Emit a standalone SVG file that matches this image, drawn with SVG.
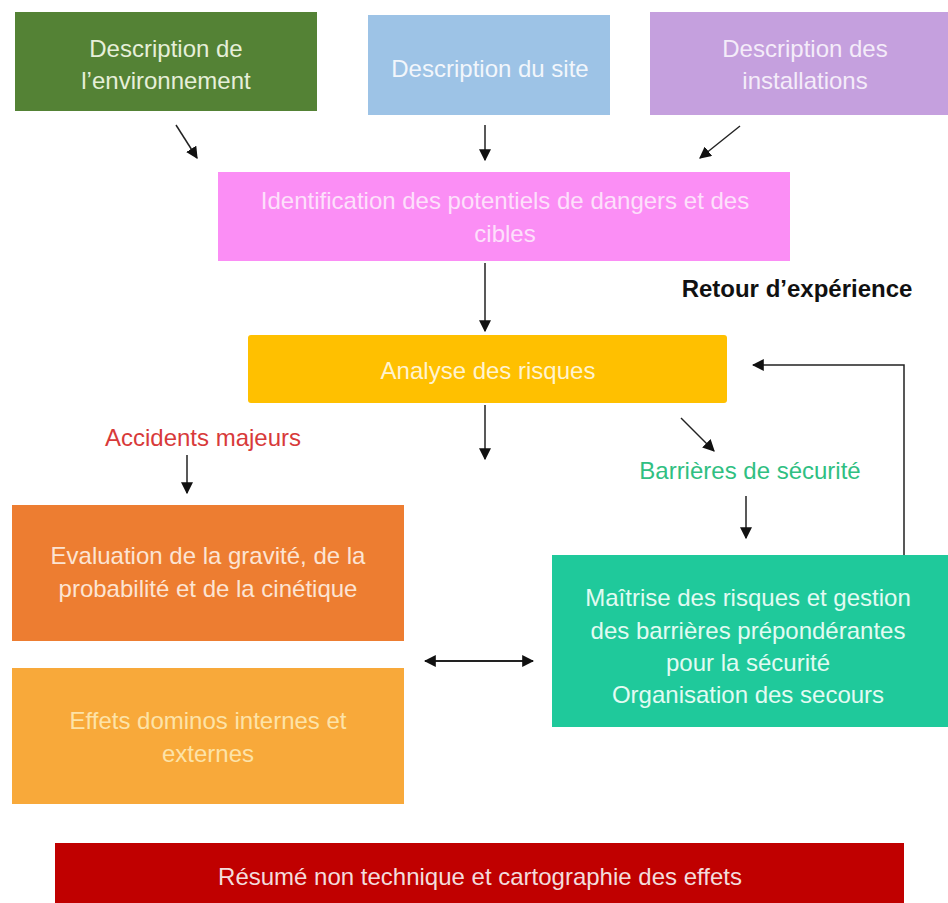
<svg xmlns="http://www.w3.org/2000/svg" width="948" height="903" viewBox="0 0 948 903">
<defs>
<marker id="ah" viewBox="0 0 10 10" refX="9" refY="5" markerWidth="12" markerHeight="12" markerUnits="userSpaceOnUse" orient="auto-start-reverse">
<path d="M0,0 L10,5 L0,10 z" fill="#111"/>
</marker>
<style>
text{font-family:"Liberation Sans",Arial,sans-serif;font-size:24px;text-anchor:middle;dominant-baseline:central}
.c{stroke:#222;stroke-width:1.5;fill:none}
</style>
</defs>
<rect width="948" height="903" fill="#ffffff"/>
<g id="n-env"><rect x="15" y="12" width="302" height="99" fill="#548235"/><text fill="#e6efd9" x="166" y="48">Description de</text><text fill="#e6efd9" x="166" y="80">l’environnement</text></g>
<g id="n-site"><rect x="368" y="15" width="242" height="100" fill="#9dc3e6"/><text fill="#f2f6fb" x="490" y="68">Description du site</text></g>
<g id="n-inst"><rect x="650" y="12" width="298" height="103" fill="#c5a0de"/><text fill="#f4ecf9" x="805" y="48">Description des</text><text fill="#f4ecf9" x="805" y="80">installations</text></g>
<g id="n-ident"><rect x="218" y="172" width="572" height="89" fill="#fb8ef5"/><text fill="#fde0fb" x="505" y="200">Identification des potentiels de dangers et des</text><text fill="#fde0fb" x="505" y="233">cibles</text></g>
<g id="n-analyse"><rect x="248" y="335" width="479" height="68" rx="3" fill="#ffc000"/><text fill="#fff3cf" x="488" y="370">Analyse des risques</text></g>
<g id="n-eval"><rect x="12" y="505" width="392" height="136" fill="#ed7d31"/><text fill="#fce4d3" x="208" y="555">Evaluation de la gravité, de la</text><text fill="#fce4d3" x="208" y="588">probabilité et de la cinétique</text></g>
<g id="n-domino"><rect x="12" y="668" width="392" height="136" fill="#f8a93a"/><text fill="#fde3a8" x="208" y="720">Effets dominos internes et</text><text fill="#fde3a8" x="208" y="753">externes</text></g>
<g id="n-maitrise"><rect x="552" y="555" width="396" height="172" fill="#1fc99b"/><text fill="#e2fbf2" x="748" y="597">Maîtrise des risques et gestion</text><text fill="#e2fbf2" x="748" y="630">des barrières prépondérantes</text><text fill="#e2fbf2" x="748" y="662">pour la sécurité</text><text fill="#e2fbf2" x="748" y="694">Organisation des secours</text></g>
<g id="n-resume"><rect x="55" y="843" width="849" height="60" fill="#c00000"/><text fill="#f3dcdc" x="480" y="876">Résumé non technique et cartographie des effets</text></g>
<g id="labels">
<text x="797" y="288" fill="#111" font-weight="bold">Retour d’expérience</text>
<text x="203" y="437" fill="#d83a3a">Accidents majeurs</text>
<text x="750" y="470" fill="#30bf82">Barrières de sécurité</text>
</g>
<g id="connectors">
<line class="c" x1="176" y1="125" x2="197" y2="158" marker-end="url(#ah)"/>
<line class="c" x1="485" y1="125" x2="485" y2="160" marker-end="url(#ah)"/>
<line class="c" x1="740" y1="126" x2="700" y2="158" marker-end="url(#ah)"/>
<line class="c" x1="485" y1="263" x2="485" y2="331" marker-end="url(#ah)"/>
<line class="c" x1="485" y1="405" x2="485" y2="459" marker-end="url(#ah)"/>
<line class="c" x1="681" y1="418" x2="714" y2="451" marker-end="url(#ah)"/>
<line class="c" x1="187" y1="455" x2="187" y2="493" marker-end="url(#ah)"/>
<line class="c" x1="746" y1="496" x2="746" y2="538" marker-end="url(#ah)"/>
<polyline class="c" points="904,555 904,365 753,365" marker-end="url(#ah)"/>
<line class="c" style="stroke-width:2.2" x1="425" y1="661" x2="533" y2="661" marker-start="url(#ah)" marker-end="url(#ah)"/>
</g>
</svg>
